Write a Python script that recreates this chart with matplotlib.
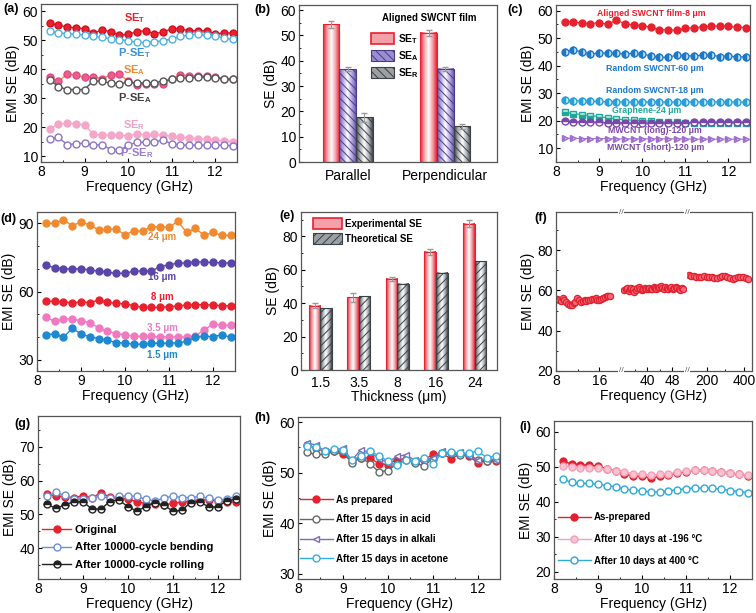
import numpy as np
import matplotlib
matplotlib.use('Agg')
import matplotlib.pyplot as plt
from matplotlib.patches import Patch
from matplotlib.colors import LinearSegmentedColormap
from matplotlib.ticker import MultipleLocator

# ---------------- data ----------------
freq = np.round(np.arange(8.2, 12.41, 0.2), 1)   # 22 points, X band

# (a) aligned film, parallel vs perpendicular
a_se_t = [55.8, 55.2, 54.5, 54.3, 54.0, 52.5, 53.5, 53.0, 51.8, 52.0, 53.0,
          53.3, 52.3, 52.8, 54.0, 54.0, 53.2, 53.3, 53.3, 52.2, 52.5, 52.5]
a_pse_t = [53.3, 52.5, 52.3, 52.0, 51.8, 51.3, 51.0, 50.5, 50.2, 49.8, 49.3,
           49.2, 49.5, 49.8, 50.5, 51.3, 51.8, 52.0, 51.7, 51.5, 50.8, 50.3]
a_se_a = [37.2, 35.8, 38.3, 38.0, 37.2, 37.3, 36.8, 38.0, 38.2, 36.0, 34.5,
          35.0, 34.8, 34.8, 36.8, 38.0, 37.8, 37.8, 37.6, 37.2, 36.8, 36.6]
a_pse_a = [36.3, 34.0, 33.0, 33.0, 33.0, 36.0, 35.8, 35.2, 35.0, 35.5, 35.3,
           35.2, 35.2, 36.0, 36.5, 37.0, 37.0, 37.3, 37.3, 37.0, 36.8, 36.5]
a_se_r = [19.5, 21.0, 21.5, 21.2, 20.8, 17.5, 17.2, 17.3, 17.3, 17.0, 17.8,
          17.3, 17.5, 17.3, 16.8, 16.5, 16.3, 16.0, 15.8, 15.5, 15.3, 15.0]
a_pse_r = [16.0, 16.5, 14.0, 14.3, 14.5, 13.8, 14.0, 12.3, 12.0, 13.8, 14.8,
           14.8, 15.0, 15.5, 14.3, 13.8, 13.8, 13.8, 13.8, 13.8, 13.8, 13.6]

# (b) average SE
b_groups = ['Parallel', 'Perpendicular']
b_se_t = [54.3, 51.0]
b_se_t_err = [1.2, 1.2]
b_se_a = [36.7, 36.8]
b_se_a_err = [0.8, 0.7]
b_se_r = [17.6, 14.2]
b_se_r_err = [1.9, 1.0]

# (c) comparison with other materials
c_aligned = [56.0, 55.8, 55.5, 55.2, 55.6, 55.0, 56.5, 55.2, 54.8, 54.5, 54.0,
             53.0, 53.0, 52.8, 53.5, 53.8, 54.0, 54.3, 54.3, 54.2, 54.0, 53.8]
c_rand60 = [45.0, 45.6, 45.0, 44.3, 44.5, 44.6, 44.4, 44.3, 44.4, 44.3, 43.5,
            43.0, 43.0, 43.8, 43.6, 43.5, 43.8, 43.8, 43.3, 43.5, 43.2, 43.2]
c_rand18 = [27.5, 27.3, 27.2, 27.0, 27.0, 26.9, 26.9, 26.8, 26.8, 26.8, 26.8,
            26.8, 26.7, 26.8, 26.8, 26.8, 26.9, 26.8, 26.8, 26.8, 26.8, 26.8]
c_graphene = [23.0, 22.6, 22.2, 21.8, 21.5, 21.0, 20.6, 20.3, 20.2, 20.0, 19.8,
              19.6, 19.5, 19.4, 19.3, 19.2, 19.2, 19.2, 19.2, 19.2, 19.2, 19.2]
c_mw_long = [19.8, 19.7, 19.6, 19.5, 19.4, 19.3, 19.3, 19.2, 19.2, 19.2, 19.1,
             19.2, 19.2, 19.3, 19.3, 19.4, 19.4, 19.4, 19.5, 19.5, 19.5, 19.6]
c_mw_short = [13.6, 13.6, 13.5, 13.5, 13.5, 13.5, 13.4, 13.4, 13.4, 13.4, 13.4,
              13.4, 13.4, 13.4, 13.4, 13.3, 13.3, 13.3, 13.3, 13.3, 13.3, 13.3]

# (d) thickness dependence
d_24 = [90.0, 90.0, 91.6, 89.0, 90.6, 89.3, 87.1, 87.4, 87.4, 85.0, 86.6,
        86.6, 88.5, 88.5, 88.2, 90.9, 86.0, 87.8, 84.7, 86.0, 84.7, 84.7]
d_16 = [71.5, 70.5, 70.0, 70.0, 70.0, 69.5, 69.0, 68.5, 68.0, 68.0, 69.0,
        69.0, 69.0, 71.0, 71.8, 72.5, 72.6, 73.2, 72.8, 72.8, 72.6, 72.5]
d_8 = [55.8, 55.6, 55.4, 55.0, 55.5, 55.0, 56.3, 55.2, 54.8, 54.5, 53.8,
       53.0, 53.0, 53.0, 53.3, 53.7, 54.0, 54.2, 54.2, 54.0, 53.8, 53.6]
d_3p5 = [48.8, 46.8, 47.8, 48.0, 47.0, 46.3, 44.0, 42.5, 41.5, 41.0, 40.2,
         40.2, 40.2, 40.0, 40.0, 40.0, 40.0, 40.5, 43.0, 45.8, 45.2, 45.2]
d_1p5 = [41.0, 41.3, 39.8, 43.8, 41.3, 40.0, 39.3, 38.5, 37.5, 37.3, 36.8,
         36.8, 37.2, 37.2, 37.2, 37.5, 38.0, 39.8, 40.4, 40.0, 41.0, 39.8]

# (e) experimental vs theoretical
e_thick = ['1.5', '3.5', '8', '16', '24']
e_exp = [38.3, 43.5, 54.5, 70.8, 87.5]
e_exp_err = [1.5, 2.8, 1.2, 1.8, 2.0]
e_theo = [37.0, 44.2, 51.5, 58.3, 65.0]

# (f) broadband, three bands
f_x1 = np.linspace(8.2, 18.0, 30)
f_y1 = [55.8, 55.5, 55.0, 56.2, 55.2, 54.5, 53.5, 52.8, 53.0, 54.0, 54.5,
        56.5, 55.5, 54.2, 54.8, 55.5, 54.8, 55.2, 55.2, 55.8, 56.0, 56.5,
        55.2, 55.5, 56.0, 56.5, 57.0, 57.5, 57.2, 57.5]
f_x2 = np.linspace(32.5, 51.5, 41)
f_y2 = [60.2, 60.5, 61.0, 59.8, 60.5, 61.2, 60.8, 59.5, 60.0, 61.0, 61.5,
        60.8, 60.2, 60.5, 61.0, 60.5, 60.8, 61.2, 60.5, 60.8, 61.5, 61.0,
        60.5, 61.0, 61.8, 62.2, 61.0, 60.5, 61.5, 61.0, 60.8, 61.2, 61.5,
        60.8, 61.0, 61.8, 61.2, 60.5, 60.2, 61.0, 60.8]
f_x3 = np.linspace(105, 420, 24)
f_y3 = [67.8, 67.2, 67.0, 66.8, 66.5, 66.8, 67.0, 66.8, 66.5, 66.6, 66.3,
        66.0, 66.5, 67.0, 67.3, 66.8, 66.2, 65.8, 66.0, 66.5, 66.8, 66.5,
        66.0, 65.8]

# (g) mechanical durability
g_orig = [56.0, 55.5, 55.2, 55.0, 55.5, 55.0, 56.3, 55.2, 54.8, 54.5, 53.8,
          53.2, 53.0, 52.8, 53.3, 53.6, 54.0, 54.3, 54.3, 54.0, 53.8, 53.6]
g_bend = [55.3, 56.5, 55.6, 54.6, 54.5, 55.0, 55.3, 54.8, 55.3, 55.5, 55.3,
          54.5, 54.0, 54.8, 55.4, 55.0, 55.0, 55.3, 54.8, 54.2, 54.6, 55.3]
g_roll = [53.0, 51.8, 52.8, 53.8, 53.8, 51.6, 51.6, 53.8, 54.3, 52.3, 51.0,
          52.3, 53.5, 52.8, 51.0, 51.2, 53.5, 53.8, 52.2, 52.2, 54.0, 54.5]

# (h) chemical durability
h_prep = [55.5, 54.8, 54.2, 54.2, 53.6, 52.3, 53.0, 52.9, 51.8, 51.6, 52.6,
          52.8, 52.2, 52.5, 53.6, 53.8, 52.8, 53.6, 53.3, 52.0, 52.4, 52.3]
h_acid = [54.0, 53.6, 53.6, 54.2, 54.3, 51.9, 53.0, 51.8, 50.2, 50.4, 51.7,
          52.5, 52.0, 51.3, 52.8, 53.8, 53.8, 53.5, 53.6, 52.5, 52.3, 52.5]
h_alkali = [55.8, 55.5, 54.2, 54.5, 54.8, 52.5, 54.5, 54.0, 52.8, 52.0, 53.2,
            53.5, 52.5, 52.3, 53.0, 54.2, 53.8, 54.0, 53.2, 52.6, 52.7, 52.6]
h_acetone = [55.3, 55.0, 54.3, 54.7, 54.5, 52.5, 53.3, 54.3, 53.3, 52.3, 51.5,
             52.5, 52.3, 53.0, 51.8, 53.8, 54.0, 53.8, 53.8, 54.3, 53.0, 53.3]

# (i) thermal durability
i_prep = [51.5, 50.8, 50.6, 50.4, 50.2, 49.4, 48.8, 47.8, 47.4, 47.2, 46.8,
          47.2, 47.6, 48.2, 48.6, 49.0, 49.0, 48.8, 48.6, 48.2, 47.8, 47.4]
i_cold = [50.3, 49.8, 49.7, 49.6, 49.5, 49.2, 48.8, 48.5, 48.0, 48.0, 47.5,
          47.8, 48.0, 48.4, 48.8, 49.0, 49.0, 48.8, 48.6, 48.2, 47.8, 47.6]
i_hot = [46.4, 45.5, 45.2, 45.2, 45.0, 44.6, 44.3, 43.6, 43.3, 43.1, 42.8,
         42.8, 43.1, 43.4, 43.7, 44.0, 43.8, 43.8, 43.6, 43.2, 42.9, 42.6]

# ---------------- style ----------------
plt.rcParams['font.family'] = ['Liberation Sans', 'DejaVu Sans']
plt.rcParams['font.size'] = 10
plt.rcParams['mathtext.fontset'] = 'custom'
plt.rcParams['mathtext.rm'] = 'Liberation Sans'
plt.rcParams['mathtext.bf'] = 'Liberation Sans:bold'
plt.rcParams['xtick.direction'] = 'in'
plt.rcParams['ytick.direction'] = 'in'
plt.rcParams['xtick.major.size'] = 3
plt.rcParams['ytick.major.size'] = 3
plt.rcParams['xtick.minor.size'] = 1.6
plt.rcParams['ytick.minor.size'] = 1.6
plt.rcParams['xtick.major.pad'] = 2.5
plt.rcParams['ytick.major.pad'] = 2
plt.rcParams['axes.linewidth'] = 0.9
plt.rcParams['axes.edgecolor'] = '#555555'
plt.rcParams['hatch.linewidth'] = 0.7
plt.rcParams['axes.labelpad'] = 2

W, H = 756, 613
fig = plt.figure(figsize=(W / 100, H / 100), dpi=100)


def box(l, t, r, b):
    return fig.add_axes([l / W, 1 - b / H, (r - l) / W, (b - t) / H])


def tag(x, y, s):
    fig.text(x / W, 1 - y / H, s, fontsize=9, fontweight='bold', va='center', ha='left')


def freq_axis(ax, ylo, yhi, ymaj, xhi=12.5):
    ax.set_xlim(8, xhi)
    ax.set_ylim(ylo, yhi)
    ax.xaxis.set_major_locator(MultipleLocator(1))
    ax.xaxis.set_minor_locator(MultipleLocator(0.5))
    ax.yaxis.set_major_locator(MultipleLocator(ymaj))
    ax.yaxis.set_minor_locator(MultipleLocator(ymaj / 2))
    ax.set_xlabel('Frequency (GHz)', labelpad=0.5)
    ax.set_ylabel('EMI SE (dB)')


def grad_bars(ax, bars, edge, mid):
    cmap = LinearSegmentedColormap.from_list('g', [edge, mid, 'white', mid, edge])
    g = np.linspace(0, 1, 80).reshape(1, -1)
    for p in bars:
        x0, w, h = p.get_x(), p.get_width(), p.get_height()
        ax.imshow(g, cmap=cmap, extent=[x0, x0 + w, 0, h], aspect='auto',
                  interpolation='bilinear', zorder=1.5)


def lk(size):
    return dict(fontsize=size, fontweight='bold', ha='center', va='center')


# ---------------- (a) ----------------
ax = box(41, 4, 237, 162)
ax.plot(freq, a_se_t, '-o', color='#e8212e', ms=5, lw=1, mec='#d01020')
ax.plot(freq, a_pse_t, '-o', color='#4fb0e0', ms=5, lw=1, mfc='white')
ax.plot(freq, a_se_a, '-o', color='#f39a3c', ms=5, lw=1, mfc='#ea5f8e', mec='#e04a80')
ax.plot(freq, a_pse_a, '-o', color='#555555', ms=5, lw=1, mfc='white')
ax.plot(freq, a_se_r, '-o', color='#f4a7c8', ms=5, lw=1)
ax.plot(freq, a_pse_r, '-o', color='#8c74c4', ms=5, lw=1, mfc='white')
freq_axis(ax, 8, 62.5, 10)
ax.text(10.15, 57.7, r'$\mathbf{SE_T}$', color='#e8212e', **lk(8))
ax.text(10.15, 45.5, r'$\mathbf{P\text{-}SE_T}$', color='#3a8fd8', **lk(8))
ax.text(10.15, 39.8, r'$\mathbf{SE_A}$', color='#f08a30', **lk(8))
ax.text(10.15, 30.2, r'$\mathbf{P\text{-}SE_A}$', color='#404040', **lk(8))
ax.text(10.15, 20.7, r'$\mathbf{SE_R}$', color='#f3a0c8', **lk(8))
ax.text(10.2, 10.9, r'$\mathbf{P\text{-}SE_R}$', color='#9a7bd0', **lk(8))
tag(3, 9, '(a)')

# ---------------- (b) ----------------
ax = box(299, 5, 497, 162)
xb = np.arange(len(b_groups))
wb = 0.17
bt = ax.bar(xb - wb, b_se_t, wb, facecolor='none', edgecolor='#e8212e', lw=0.8, zorder=3)
ba = ax.bar(xb, b_se_a, wb, facecolor='none', edgecolor='#4b3c8a', hatch='\\\\\\\\', lw=0.8, zorder=3)
br = ax.bar(xb + wb, b_se_r, wb, facecolor='none', edgecolor='#3b4044', hatch='\\\\\\\\', lw=0.8, zorder=3)
grad_bars(ax, bt, '#e8212e', '#f4a0a8')
grad_bars(ax, ba, '#6a58b0', '#b8aee0')
grad_bars(ax, br, '#3e4448', '#b0b4b8')
ax.errorbar(xb - wb, b_se_t, b_se_t_err, fmt='none', ecolor='#999999', capsize=2, lw=0.8, zorder=4)
ax.errorbar(xb, b_se_a, b_se_a_err, fmt='none', ecolor='#999999', capsize=2, lw=0.8, zorder=4)
ax.errorbar(xb + wb, b_se_r, b_se_r_err, fmt='none', ecolor='#999999', capsize=2, lw=0.8, zorder=4)
ax.set_xlim(-0.5, 1.53)
ax.set_ylim(0, 62)
ax.set_xticks(xb)
ax.set_xticklabels(b_groups)
ax.tick_params(axis='x', length=0, pad=5)
ax.yaxis.set_major_locator(MultipleLocator(10))
ax.yaxis.set_minor_locator(MultipleLocator(5))
ax.set_ylabel('SE (dB)')
ax.text(0.66, 0.915, 'Aligned SWCNT film', transform=ax.transAxes, fontsize=7,
        fontweight='bold', ha='center', va='center')
hb = [Patch(facecolor='#f4a0a8', edgecolor='#e8212e', lw=1.2),
      Patch(facecolor='#9a8ed0', edgecolor='#4b3c8a', hatch='\\\\\\\\', lw=0.8),
      Patch(facecolor='#9aa0a4', edgecolor='#3b4044', hatch='\\\\\\\\', lw=0.8)]
ax.legend(hb, [r'$\mathbf{SE_T}$', r'$\mathbf{SE_A}$', r'$\mathbf{SE_R}$'], loc='upper left',
          bbox_to_anchor=(0.345, 0.855), frameon=False, fontsize=7.5, handlelength=2.2,
          handleheight=1.3, handletextpad=0.3, labelspacing=0.3, borderaxespad=0)
tag(254, 10, '(b)')

# ---------------- (c) ----------------
ax = box(556, 5, 750, 162)
ax.plot(freq, c_aligned, '-o', color='#e8212e', ms=5, lw=0.8)
ax.plot(freq, c_rand60, '-o', color='#1e78c8', ms=5, lw=0.8, fillstyle='left', markerfacecoloralt='#bfe0f5')
ax.plot(freq, c_rand18, '-o', color='#2a9ed8', ms=5, lw=0.8, fillstyle='left', markerfacecoloralt='#c8ecfa')
ax.plot(freq, c_graphene, '-s', color='#1ea898', ms=4.5, lw=0.8, fillstyle='bottom', markerfacecoloralt='#c8f0ea')
ax.plot(freq, c_mw_long, '-o', color='#7a48a8', ms=5, lw=0.8, fillstyle='top', markerfacecoloralt='white')
ax.plot(freq, c_mw_short, '->', color='#a070d0', ms=5, lw=0.8, fillstyle='left', markerfacecoloralt='#e0c8f5')
freq_axis(ax, 5, 62, 10)
ax.text(10.2, 59.0, 'Aligned SWCNT film-8 μm', color='#e8212e', **lk(6.3))
ax.text(10.3, 39.0, 'Random SWCNT-60 μm', color='#1e78c8', **lk(6.3))
ax.text(10.3, 31.0, 'Random SWCNT-18 μm', color='#1e78c8', **lk(6.3))
ax.text(10.1, 23.6, 'Graphene-24 μm', color='#1ea898', **lk(6.3))
ax.text(10.3, 16.4, 'MWCNT (long)-120 μm', color='#7a48a8', **lk(6.3))
ax.text(10.3, 10.2, 'MWCNT (short)-120 μm', color='#7a48a8', **lk(6.3))
tag(507, 10, '(c)')

# ---------------- (d) ----------------
ax = box(37, 212, 235, 371)
ax.plot(freq, d_24, '-o', color='#f08a30', ms=5, lw=1)
ax.plot(freq, d_16, '-o', color='#5a46a8', ms=5, lw=1)
ax.plot(freq, d_8, '-o', color='#e8212e', ms=5, lw=1)
ax.plot(freq, d_3p5, '-o', color='#f07ac0', ms=5, lw=1)
ax.plot(freq, d_1p5, '-o', color='#1e88d0', ms=5, lw=1)
freq_axis(ax, 25, 95, 30)
ax.yaxis.set_minor_locator(MultipleLocator(10))
ax.text(10.85, 83.8, '24 μm', color='#f08a30', **lk(7))
ax.text(10.85, 66.6, '16 μm', color='#5a46a8', **lk(7))
ax.text(10.85, 57.5, '8 μm', color='#e8212e', **lk(7))
ax.text(10.85, 44.0, '3.5 μm', color='#f07ac0', **lk(7))
ax.text(10.85, 31.9, '1.5 μm', color='#1e88d0', **lk(7))
tag(0, 219, '(d)')

# ---------------- (e) ----------------
ax = box(301, 212, 497, 370)
xe = np.arange(len(e_thick))
we = 0.3
be = ax.bar(xe - we / 2, e_exp, we, facecolor='none', edgecolor='#e8212e', lw=0.8, zorder=3)
bth = ax.bar(xe + we / 2, e_theo, we, facecolor='none', edgecolor='#3b4044', hatch='////', lw=0.8, zorder=3)
grad_bars(ax, be, '#e8212e', '#f4a0a8')
grad_bars(ax, bth, '#3e4448', '#b0b4b8')
ax.errorbar(xe - we / 2, e_exp, e_exp_err, fmt='none', ecolor='#999999', capsize=2, lw=0.8, zorder=4)
ax.set_xlim(-0.5, 4.58)
ax.set_ylim(0, 94.5)
ax.set_xticks(xe)
ax.set_xticklabels(e_thick)
ax.tick_params(axis='x', length=0, pad=4)
ax.yaxis.set_major_locator(MultipleLocator(20))
ax.yaxis.set_minor_locator(MultipleLocator(10))
ax.set_xlabel('Thickness (μm)', labelpad=0.5)
ax.set_ylabel('SE (dB)')
he = [Patch(facecolor='#f4a0a8', edgecolor='#e8212e', lw=1.2),
      Patch(facecolor='#9aa0a4', edgecolor='#3b4044', hatch='////', lw=0.8)]
ax.legend(he, ['Experimental SE', 'Theoretical SE'], loc='upper left', bbox_to_anchor=(0.04, 0.985),
          frameon=False, prop=dict(size=7, weight='bold'), handlelength=3.0, handleheight=1.4,
          handletextpad=0.3, labelspacing=0.35, borderaxespad=0)
tag(279, 216, '(e)')

# ---------------- (f) ----------------
fl, fb1, fb2, fr = 556, 621, 687, 752
ft, fbot = 212, 371
f1 = box(fl, ft, fb1, fbot)
f2 = box(fb1, ft, fb2, fbot)
f3 = box(fb2, ft, fr, fbot)
mk = dict(ls='none', marker='o', ms=4.5, mfc='#f26a78', mec='#e3202f', mew=0.9)
f1.plot(f_x1, f_y1, **mk)
f2.plot(f_x2, f_y2, **mk)
f3.plot(f_x3, f_y3, **mk)
f1.set_xlim(8, 20)
f2.set_xlim(31.5, 52.8)
f3.set_xlim(97, 440)
for a in (f1, f2, f3):
    a.set_ylim(20, 99)
    a.yaxis.set_major_locator(MultipleLocator(20))
    a.yaxis.set_minor_locator(MultipleLocator(10))
f1.set_xticks([8, 16])
f1.xaxis.set_minor_locator(MultipleLocator(4))
f2.set_xticks([40, 48])
f2.xaxis.set_minor_locator(MultipleLocator(4))
f3.set_xticks([200, 400])
f3.xaxis.set_minor_locator(MultipleLocator(100))
f1.spines['right'].set_visible(False)
f2.spines['left'].set_visible(False)
f2.spines['right'].set_visible(False)
f3.spines['left'].set_visible(False)
f2.tick_params(axis='y', which='both', left=False, labelleft=False)
f3.tick_params(axis='y', which='both', left=False, labelleft=False)
f1.set_ylabel('EMI SE (dB)')
f2.set_xlabel('Frequency (GHz)', labelpad=0.5)
for xb_ in (fb1, fb2):
    for yb_ in (ft, fbot):
        fig.text(xb_ / W, 1 - yb_ / H, '//', fontsize=6, ha='center', va='center', color='#555555',
                 bbox=dict(boxstyle='square,pad=0.05', fc='white', ec='none'))
tag(534, 218, '(f)')

# ---------------- (g) ----------------
ax = box(38, 416, 240, 579)
ax.plot(freq, g_orig, '-o', color='#e8212e', ms=5, lw=1, label='Original')
ax.plot(freq, g_bend, '-o', color='#6a8fd8', ms=5, lw=1, mfc='white', label='After 10000-cycle bending')
ax.plot(freq, g_roll, '-o', color='#222222', ms=5, lw=1, fillstyle='top', markerfacecoloralt='white',
        label='After 10000-cycle rolling')
freq_axis(ax, 31, 79, 10)
ax.legend(loc='lower left', bbox_to_anchor=(0.0, 0.03), frameon=False, prop=dict(size=8, weight='bold'),
          handlelength=2.6, handletextpad=0.3, labelspacing=0.65, borderaxespad=0)
tag(14, 424, '(g)')

# ---------------- (h) ----------------
ax = box(298, 417, 500, 579)
ax.plot(freq, h_prep, '-o', color='#e8212e', ms=5, lw=1, label='As prepared')
ax.plot(freq, h_acid, '-o', color='#666666', ms=5, lw=1, mfc='white', label='After 15 days in acid')
ax.plot(freq, h_alkali, '-<', color='#7b6fb0', ms=5, lw=1, mfc='white', label='After 15 days in alkali')
ax.plot(freq, h_acetone, '-o', color='#30b0e0', ms=5, lw=1, mfc='white', label='After 15 days in acetone')
freq_axis(ax, 29, 61, 10)
ax.legend(loc='lower left', bbox_to_anchor=(-0.01, 0.07), frameon=False, prop=dict(size=7, weight='bold'),
          handlelength=3.4, handletextpad=0.3, labelspacing=1.0, borderaxespad=0)
tag(254, 418, '(h)')

# ---------------- (i) ----------------
ax = box(554, 421, 752, 579)
ax.plot(freq, i_prep, '-o', color='#e02030', ms=5, lw=1, label='As-prepared')
ax.plot(freq, i_cold, '-o', color='#f4a0b8', ms=5, lw=1, mfc='#f8c4d2', label='After 10 days at -196 °C')
ax.plot(freq, i_hot, '-o', color='#30a8d8', ms=5, lw=1, mfc='white', label='After 10 days at 400 °C')
freq_axis(ax, 18, 63, 10)
ax.legend(loc='lower left', bbox_to_anchor=(0.0, 0.06), frameon=False, prop=dict(size=7, weight='bold'),
          handlelength=3.4, handletextpad=0.3, labelspacing=1.2, borderaxespad=0)
tag(519, 427, '(i)')

fig.savefig('out.png', dpi=100)
